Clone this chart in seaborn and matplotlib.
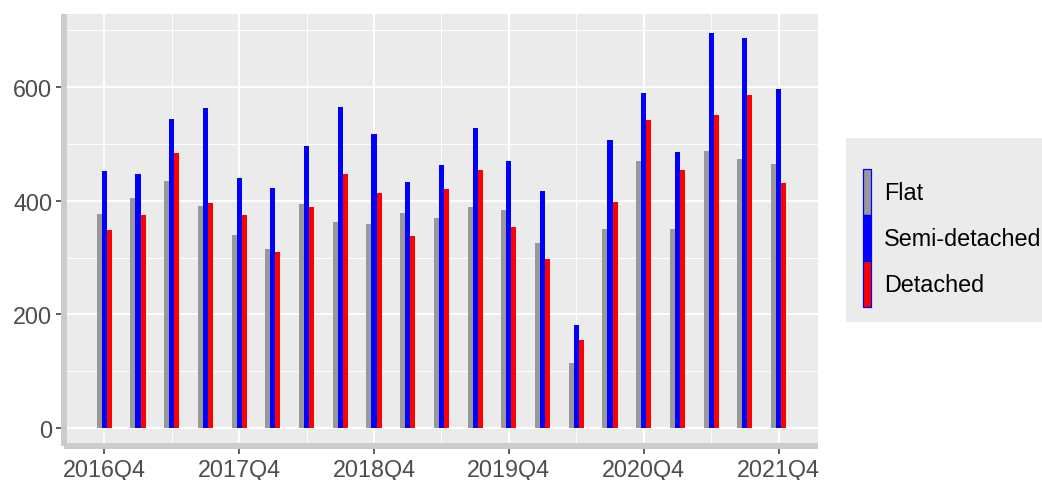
import pandas as pd
import seaborn as sns
import matplotlib.pyplot as plt
from matplotlib.patches import Patch, Rectangle
from matplotlib.ticker import FixedLocator

# Quarterly values per dwelling type
quarters = ['2016Q4', '2017Q1', '2017Q2', '2017Q3', '2017Q4', '2018Q1', '2018Q2',
            '2018Q3', '2018Q4', '2019Q1', '2019Q2', '2019Q3', '2019Q4', '2020Q1',
            '2020Q2', '2020Q3', '2020Q4', '2021Q1', '2021Q2', '2021Q3', '2021Q4']
flat = [376, 404, 434, 390, 339, 315, 394, 363, 358, 379, 369,
        389, 384, 325, 115, 350, 469, 350, 487, 473, 465]
semi_detached = [452, 446, 543, 562, 440, 422, 496, 565, 516, 432, 463,
                 527, 469, 417, 181, 506, 589, 486, 695, 685, 596]
detached = [349, 375, 483, 395, 374, 310, 389, 447, 413, 337, 420,
            454, 353, 297, 156, 397, 541, 454, 550, 585, 431]

types = ['Flat', 'Semi-detached', 'Detached']
colors = ['#999999', '#0000FF', '#FF0000']

df = pd.DataFrame({
    'Quarter': quarters * 3,
    'Type': ['Flat'] * len(quarters) + ['Semi-detached'] * len(quarters) + ['Detached'] * len(quarters),
    'Value': flat + semi_detached + detached,
})

W, H = 1042, 481
fig = plt.figure(figsize=(W / 100, H / 100), dpi=100)
ax = fig.add_axes([64 / W, (H - 447) / H, (818 - 64) / W, (447 - 15) / H])
ax.set_facecolor('#EBEBEB')

sns.barplot(data=df, x='Quarter', y='Value', hue='Type', order=quarters, hue_order=types,
            palette=colors, saturation=1, width=0.45, errorbar=None, linewidth=0,
            legend=False, ax=ax)

ax.set_xlim(-1.195, 21.17)
ax.set_ylim(-31, 727.6)

# ticks and grid
ax.xaxis.set_major_locator(FixedLocator(list(range(0, 21, 4))))
ax.set_xticklabels(quarters[::4])
ax.xaxis.set_minor_locator(FixedLocator(list(range(2, 21, 4))))
ax.set_yticks([0, 200, 400, 600])
ax.yaxis.set_minor_locator(FixedLocator([100, 300, 500, 700]))
ax.set_axisbelow(True)
ax.grid(which='major', color='white', linewidth=1.4)
ax.grid(which='minor', color='white', linewidth=0.7)
ax.tick_params(which='major', length=5.5, width=1.1, color='#333333',
               labelsize=16.8, labelcolor='#4D4D4D', pad=3)
ax.tick_params(which='minor', length=0)
for lab in ax.get_xticklabels() + ax.get_yticklabels():
    lab.set_fontfamily('Liberation Sans')
ax.set_xlabel('')
ax.set_ylabel('')

for side in ['top', 'right']:
    ax.spines[side].set_visible(False)
for side in ['left', 'bottom']:
    ax.spines[side].set_color('#CCCCCC')
    ax.spines[side].set_linewidth(4.3)
    ax.spines[side].set_capstyle('butt')

# legend box and keys
fig.patches.append(Rectangle((846 / W, (H - 323) / H), (W - 846) / W, 184 / H,
                             transform=fig.transFigure, facecolor='#EBEBEB',
                             edgecolor='none', zorder=0))
handles = [Patch(facecolor=c, edgecolor='#0000FF', linewidth=0.9) for c in colors]
fig.legend(handles, types, loc='upper left', bbox_to_anchor=(863 / W, 1 - 170 / H),
           frameon=False, borderpad=0, borderaxespad=0, handlelength=0.34,
           handleheight=2.65, labelspacing=0, handletextpad=0.55,
           prop={'family': 'Liberation Sans', 'size': 16.8})

fig.savefig('out.png', dpi=100)
